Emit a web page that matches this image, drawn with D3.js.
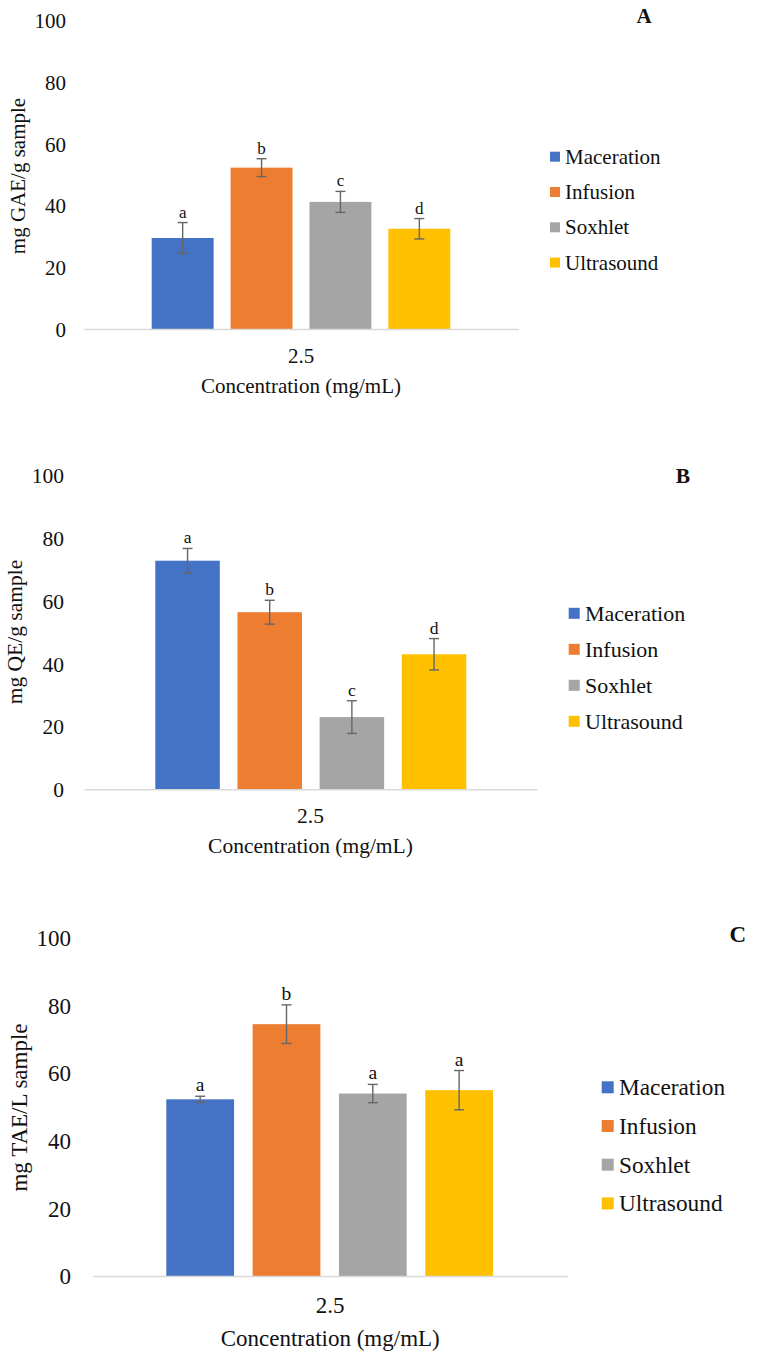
<!DOCTYPE html>
<html>
<head>
<meta charset="utf-8">
<script src="https://cdn.jsdelivr.net/npm/d3@7"></script>
<style>
  html, body { margin: 0; padding: 0; background: #fff; }
  svg { display: block; }
  text { font-family: "Liberation Serif", "Times New Roman", serif; fill: #111; }
</style>
</head>
<body>
<svg id="chart" width="757" height="1358"></svg>
<script>
// ---------- data ----------
const methods = ["Maceration", "Infusion", "Soxhlet", "Ultrasound"];
const colors = ["#4472C4", "#ED7D31", "#A5A5A5", "#FFC000"];
const category = ["2.5"];
const yTicks = [0, 20, 40, 60, 80, 100];
const xTitle = "Concentration (mg/mL)";

const valuesA = [29.5, 52.3, 41.2, 32.5];
const errorsA = [5.0, 2.9, 3.4, 3.3];
const lettersA = ["a", "b", "c", "d"];

const valuesB = [72.8, 56.4, 23.0, 43.0];
const errorsB = [3.9, 3.8, 5.2, 5.0];
const lettersB = ["a", "b", "c", "d"];

const valuesC = [52.2, 74.4, 53.9, 54.9];
const errorsC = [0.9, 5.7, 2.7, 5.8];
const lettersC = ["a", "b", "a", "a"];

const panelLabels = ["A", "B", "C"];
const yTitles = ["mg GAE/g sample", "mg QE/g sample", "mg TAE/L sample"];

// ---------- layout (positions/sizes only) ----------
const layouts = [
  { y0: 329, y100: 20.5, axis: [84, 518], group: [151.7, 450.3], tickRight: 66, fs: 21, lfs: 17,
    legX: 550, sq: 10, legTextX: 565, legY: 156.7, legStep: 35.3, legFs: 21,
    yTitleX: 18, yTitleY: 176, xTickY: 356, xTitleY: 386, labX: 644, labY: 16 },
  { y0: 789.3, y100: 475.3, axis: [84, 537], group: [155.3, 466.3], tickRight: 64, fs: 21.5, lfs: 17.5,
    legX: 568.7, sq: 11, legTextX: 585, legY: 613.3, legStep: 36, legFs: 22,
    yTitleX: 15, yTitleY: 632, xTickY: 815.7, xTitleY: 846, labX: 683, labY: 476 },
  { y0: 1276, y100: 937.5, axis: [92.7, 567.7], group: [166.3, 493], tickRight: 71, fs: 23, lfs: 19.5,
    legX: 601.7, sq: 12, legTextX: 619, legY: 1087.3, legStep: 38.7, legFs: 23.3,
    yTitleX: 19.3, yTitleY: 1107.5, xTickY: 1305, xTitleY: 1337.7, labX: 737.7, labY: 934.3 }
];

const panels = [
  { values: valuesA, errors: errorsA, letters: lettersA },
  { values: valuesB, errors: errorsB, letters: lettersB },
  { values: valuesC, errors: errorsC, letters: lettersC }
];

const svg = d3.select("#chart");

panels.forEach((p, i) => {
  const L = layouts[i];
  const g = svg.append("g");

  const y = d3.scaleLinear().domain([0, 100]).range([L.y0, L.y100]);
  const x0 = d3.scaleBand().domain(category).range(L.axis);
  const x1 = d3.scaleBand().domain(methods).range(L.group).paddingInner(0.215).paddingOuter(0);

  // y axis labels
  const yAxis = d3.axisLeft(y).tickValues(yTicks).tickSize(0).tickPadding(0).tickFormat(d3.format("d"));
  const ya = g.append("g").attr("transform", `translate(${L.tickRight},0)`).call(yAxis);
  ya.select(".domain").remove();
  ya.selectAll("text")
    .attr("x", 0).attr("dy", "0.34em")
    .style("font-size", L.fs + "px")
    .style("font-family", "'Liberation Serif', 'Times New Roman', serif")
    .attr("fill", "#111");

  // bars
  const data = methods.map((m, j) => ({ m, v: p.values[j], e: p.errors[j], l: p.letters[j], c: colors[j] }));
  g.selectAll("rect.bar").data(data).enter().append("rect")
    .attr("class", "bar")
    .attr("x", d => x1(d.m))
    .attr("width", x1.bandwidth())
    .attr("y", d => y(d.v))
    .attr("height", d => y(0) - y(d.v))
    .attr("fill", d => d.c);

  // x axis (baseline)
  const xAxis = d3.axisBottom(x0).tickSize(0).tickSizeOuter(0);
  const xa = g.append("g").attr("transform", `translate(0,${L.y0})`).call(xAxis);
  xa.select(".domain").attr("stroke", "#D9D9D9").attr("stroke-width", 1.5);
  xa.selectAll("text")
    .attr("y", L.xTickY - L.y0).attr("dy", "0.34em")
    .style("font-size", L.fs + "px")
    .style("font-family", "'Liberation Serif', 'Times New Roman', serif")
    .attr("fill", "#111");

  // error bars
  const eb = g.selectAll("g.err").data(data).enter().append("g").attr("class", "err")
    .attr("stroke", "#666").attr("stroke-width", 1.4);
  const cx = d => x1(d.m) + x1.bandwidth() / 2;
  eb.append("line").attr("x1", cx).attr("x2", cx).attr("y1", d => y(d.v + d.e)).attr("y2", d => y(d.v - d.e));
  eb.append("line").attr("x1", d => cx(d) - 5).attr("x2", d => cx(d) + 5).attr("y1", d => y(d.v + d.e)).attr("y2", d => y(d.v + d.e));
  eb.append("line").attr("x1", d => cx(d) - 5).attr("x2", d => cx(d) + 5).attr("y1", d => y(d.v - d.e)).attr("y2", d => y(d.v - d.e));

  // significance letters
  g.selectAll("text.sig").data(data).enter().append("text")
    .attr("class", "sig")
    .attr("x", cx)
    .attr("y", d => y(d.v + d.e) - 5)
    .attr("text-anchor", "middle")
    .style("font-size", L.lfs + "px")
    .text(d => d.l);

  // y title
  g.append("text")
    .attr("transform", `translate(${L.yTitleX},${L.yTitleY}) rotate(-90)`)
    .attr("text-anchor", "middle").attr("dy", "0.34em")
    .style("font-size", L.fs + "px")
    .text(yTitles[i]);

  // x title
  g.append("text")
    .attr("x", (L.axis[0] + L.axis[1]) / 2)
    .attr("y", L.xTitleY).attr("dy", "0.34em")
    .attr("text-anchor", "middle")
    .style("font-size", L.fs + "px")
    .text(xTitle);

  // panel label
  g.append("text")
    .attr("x", L.labX).attr("y", L.labY).attr("dy", "0.34em")
    .attr("text-anchor", "middle")
    .style("font-size", L.fs + "px").style("font-weight", "bold")
    .text(panelLabels[i]);

  // legend
  const leg = g.selectAll("g.leg").data(data).enter().append("g").attr("class", "leg")
    .attr("transform", (d, j) => `translate(0,${L.legY + j * L.legStep})`);
  leg.append("rect").attr("x", L.legX).attr("y", -L.sq / 2).attr("width", L.sq).attr("height", L.sq).attr("fill", d => d.c);
  leg.append("text").attr("x", L.legTextX).attr("dy", "0.34em")
    .style("font-size", L.legFs + "px")
    .text(d => d.m);
});
</script>
</body>
</html>
